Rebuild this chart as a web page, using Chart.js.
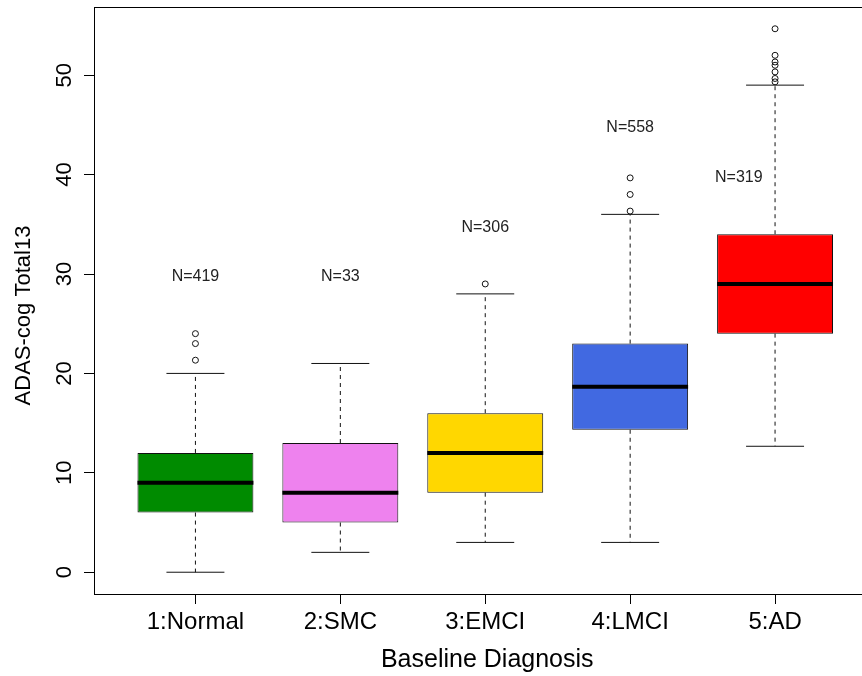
<!DOCTYPE html>
<html>

<head>
  <meta charset="UTF-8" />
  <title>ADAS-cog Total13 by baseline diagnosis</title>
  <script src="https://cdn.jsdelivr.net/npm/chart.js"></script>
  <style>
    html, body { margin: 0; padding: 0; background: #fff; }
    #wrap { width: 862px; height: 676px; }
  </style>
</head>

<body>
  <div id="wrap"><canvas id="boxChart" width="862" height="676"></canvas></div>
  <script>
    // Boxplot summaries per diagnosis group
    const categories = ["1:Normal", "2:SMC", "3:EMCI", "4:LMCI", "5:AD"];
    const q1 = [6, 5, 8, 14.33, 24];
    const medians = [9, 8, 12, 18.67, 29];
    const q3 = [12, 13, 16, 23, 34];
    const whiskerLow = [0, 2, 3, 3, 12.67];
    const whiskerHigh = [20, 21, 28, 36, 49];
    const outliers = [
      [21.33, 23, 24],
      [],
      [29],
      [36.33, 38, 39.67],
      [49.33, 49.67, 50.33, 51, 51.33, 52, 54.67],
    ];
    const counts = [419, 33, 306, 558, 319];
    const countX = [1, 2, 3, 4, 4.75];
    const countY = [30, 30, 35, 45, 40];
    const yTicks = [0, 10, 20, 30, 40, 50];
    const boxColors = ["#008B00", "#EE82EE", "#FFD700", "#4169E1", "#FF0000"];

    const FONT = "'Liberation Sans', Arial, sans-serif";
    const BOX_HALF = 0.4;
    const CAP_HALF = 0.2;

    // line segments separated by gaps (y: null breaks the line)
    const segments = (pairs) => {
      const out = [];
      pairs.forEach(([a, b]) => {
        out.push(a, b, { x: b.x, y: null });
      });
      return out;
    };

    const medianPts = segments(medians.map((m, i) => [
      { x: i + 1 - BOX_HALF, y: m }, { x: i + 1 + BOX_HALF, y: m }
    ]));
    const whiskerPts = segments(categories.flatMap((c, i) => [
      [{ x: i + 1, y: q3[i] }, { x: i + 1, y: whiskerHigh[i] }],
      [{ x: i + 1, y: q1[i] }, { x: i + 1, y: whiskerLow[i] }],
    ]));
    const capPts = segments(categories.flatMap((c, i) => [
      [{ x: i + 1 - CAP_HALF, y: whiskerHigh[i] }, { x: i + 1 + CAP_HALF, y: whiskerHigh[i] }],
      [{ x: i + 1 - CAP_HALF, y: whiskerLow[i] }, { x: i + 1 + CAP_HALF, y: whiskerLow[i] }],
    ]));
    const outlierPts = outliers.flatMap((vals, i) => vals.map(v => ({ x: i + 1, y: v })));

    // frame, rotated y labels, axis titles and group sizes
    const decorations = {
      id: "decorations",
      afterDraw(chart) {
        const { ctx, chartArea: a, scales: { x, y } } = chart;
        ctx.save();
        ctx.strokeStyle = "#000";
        ctx.lineWidth = 1;
        ctx.strokeRect(Math.round(a.left) + 0.5, Math.round(a.top) + 0.5,
          Math.round(a.right - a.left) + 20, Math.round(a.bottom - a.top));

        ctx.fillStyle = "#000";
        ctx.font = "22px " + FONT;
        ctx.textAlign = "center";
        ctx.textBaseline = "middle";
        yTicks.forEach(v => {
          ctx.save();
          ctx.translate(a.left - 29, y.getPixelForValue(v));
          ctx.rotate(-Math.PI / 2);
          ctx.fillText(String(v), 0, 0);
          ctx.restore();
        });

        ctx.save();
        ctx.translate(24, (a.top + a.bottom) / 2 + 15);
        ctx.rotate(-Math.PI / 2);
        ctx.fillText("ADAS-cog Total13", 0, 0);
        ctx.restore();

        // x title sits under the middle group
        ctx.font = "25px " + FONT;
        ctx.fillText("Baseline Diagnosis", x.getPixelForValue((categories.length + 1) / 2) + 2, chart.height - 16);

        ctx.fillStyle = "#222";
        ctx.font = "16px " + FONT;
        counts.forEach((n, i) => {
          ctx.fillText("N=" + n, x.getPixelForValue(countX[i]), y.getPixelForValue(countY[i]) + 3);
        });
        ctx.restore();
      }
    };

    new Chart(document.getElementById("boxChart"), {
      type: "bar",
      data: {
        datasets: [
          {
            type: "bar",
            data: categories.map((c, i) => ({ x: i + 1, y: [q1[i], q3[i]] })),
            backgroundColor: boxColors,
            borderColor: "#111",
            borderWidth: 1,
            borderSkipped: false,
            barPercentage: 0.8,
            categoryPercentage: 1,
            order: 4,
          },
          {
            type: "line",
            data: whiskerPts,
            borderColor: "#111",
            borderWidth: 1,
            borderDash: [4, 4],
            pointRadius: 0,
            spanGaps: false,
            order: 5,
          },
          {
            type: "line",
            data: capPts,
            borderColor: "#111",
            borderWidth: 1,
            pointRadius: 0,
            spanGaps: false,
            order: 3,
          },
          {
            type: "line",
            data: medianPts,
            borderColor: "#000",
            borderWidth: 4,
            borderCapStyle: "butt",
            pointRadius: 0,
            spanGaps: false,
            order: 1,
          },
          {
            type: "scatter",
            data: outlierPts,
            pointStyle: "circle",
            pointRadius: 3,
            pointBackgroundColor: "rgba(0,0,0,0)",
            pointBorderColor: "#111",
            pointBorderWidth: 1,
            order: 2,
          },
        ],
      },
      options: {
        responsive: false,
        animation: false,
        events: [],
        layout: { autoPadding: false, padding: { top: 7, right: 0, left: 0, bottom: 0 } },
        plugins: { legend: { display: false }, tooltip: { enabled: false } },
        scales: {
          x: {
            type: "linear",
            min: 0.3,
            max: 5.6,
            offset: false,
            afterBuildTicks: s => { s.ticks = categories.map((c, i) => ({ value: i + 1 })); },
            afterFit: s => { s.height = 82; },
            grid: { drawOnChartArea: false, offset: false, tickLength: 10, color: "#000" },
            border: { display: false },
            ticks: {
              color: "#000",
              padding: 4,
              maxRotation: 0,
              font: { family: FONT, size: 24 },
              callback: (v, i) => categories[i],
            },
          },
          y: {
            type: "linear",
            min: -2.19,
            max: 56.86,
            afterBuildTicks: s => { s.ticks = yTicks.map(v => ({ value: v })); },
            afterFit: s => { s.width = 94; },
            grid: { drawOnChartArea: false, tickLength: 10, color: "#000" },
            border: { display: false },
            ticks: { display: false },
          },
        },
      },
      plugins: [decorations],
    });
  </script>
</body>

</html>
